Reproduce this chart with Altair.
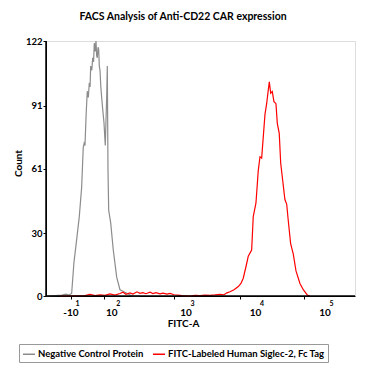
import altair as alt
import pandas as pd
import math

FONT = "Lato"

# x values are in display decades of the FITC-A (biexponential) axis
neg_x = [0.986, 1.115, 1.216, 1.273, 1.317, 1.355, 1.388, 1.427, 1.465, 1.499, 1.522, 1.535, 1.547,
         1.565, 1.580, 1.595, 1.609, 1.620, 1.629, 1.645, 1.658, 1.670, 1.681, 1.693, 1.705, 1.715,
         1.724, 1.735, 1.744, 1.753, 1.763, 1.775, 1.787, 1.800, 1.820, 1.839, 1.850, 1.859, 1.868,
         1.878, 1.888, 1.917, 1.954, 2.003, 2.050, 2.108, 2.170, 2.219, 2.338]
neg_y = [0, 0.2, 0.4, 0.9, 0.5, 1.2, 16, 27, 38, 52, 71, 73, 72,
         88, 98, 95, 102, 100, 110, 108, 114, 112, 121, 117, 122, 115,
         114, 119, 118, 110, 108, 100, 95, 90, 83, 72, 85, 95, 110,
         60, 41, 35, 22, 9, 3, 2, 1, 0, 0]

pos_x = [1.187, 1.547, 1.619, 1.691, 1.763, 1.835, 1.906, 1.978, 2.050, 2.094, 2.137, 2.194, 2.237,
         2.295, 2.338, 2.381, 2.424, 2.482, 2.525, 2.568, 2.626, 2.669, 2.727, 2.770, 2.827, 2.885,
         2.942, 3.000, 3.058, 3.129, 3.201, 3.273, 3.345, 3.417, 3.489, 3.547, 3.590, 3.633, 3.691,
         3.753, 3.791, 3.824, 3.863, 3.896, 3.945, 3.968, 4.007, 4.040, 4.065, 4.089, 4.112, 4.137,
         4.161, 4.184, 4.199, 4.219, 4.242, 4.266, 4.295, 4.314, 4.342, 4.363, 4.391, 4.424, 4.449,
         4.472, 4.506, 4.544, 4.583, 4.640, 4.688, 4.745, 4.784]
pos_y = [0, 0.2, 0.8, 0.2, 0.5, 0.3, 1.0, 0.4, 1.2, 1.8, 0.8, 1.5, 0.9,
         2.0, 1.3, 1.6, 1.1, 1.8, 1.2, 1.6, 1.0, 1.4, 0.9, 1.2, 0.6, 0.4,
         0.2, 0.1, 0.0, 0.3, 0.2, 0.4, 0.3, 0.5, 0.8, 0.6, 1.5, 2, 3,
         4.5, 6, 8.5, 14, 19, 22, 38, 44.5, 60, 66.6, 66, 76, 87,
         92, 98.5, 102.5, 97, 97.8, 93, 92, 82.6, 77.8, 63.5, 55.5, 46, 44,
         36, 25, 20, 12, 6, 3, 0.5, 0]

series_names = ["Negative Control Protein", "FITC-Labeled Human Siglec-2, Fc Tag"]
series_colors = ["#8c8c8c", "#ff0000"]

tick_pos = [1.345, 1.931, 3.0, 4.0, 5.0]
tick_base = ["-10", "10", "10", "10", "10"]
tick_exp = ["1", "2", "3", "4", "5"]

y_ticks = [0, 30, 61, 91, 122]
x_domain = [0.986, 5.432]
y_domain = [0, 122]

W, H = 309, 255

# minor tick positions on the biexponential axis
minor = []
for k in range(1, 10):
    minor.append(round(1.345 + (1.931 - 1.345) * k / 10, 3))
for k in range(2, 10):
    minor.append(round(1.931 + (3 - 1.931) * math.log10(k), 3))
for d in [3, 4, 5]:
    for k in range(2, 10):
        v = d + math.log10(k)
        if v < 5.43:
            minor.append(round(v, 3))
axis_ticks = sorted(set(minor + tick_pos))

rows = []
for x, y in zip(neg_x, neg_y):
    rows.append({"u": x, "count": y, "series": series_names[0]})
for x, y in zip(pos_x, pos_y):
    rows.append({"u": x, "count": y, "series": series_names[1]})
df = pd.DataFrame(rows)

ticks_df = pd.DataFrame({"u": tick_pos, "base": tick_base, "exp": tick_exp})
hline_df = pd.DataFrame({"xa": [x_domain[0]], "xb": [x_domain[1]], "ya": [y_domain[0]]})
vline_df = pd.DataFrame({"xa": [x_domain[0]], "ya": [y_domain[0]], "yb": [y_domain[1]]})

xscale = alt.Scale(domain=x_domain, nice=False, zero=False)
yscale = alt.Scale(domain=y_domain, nice=False)

lines = alt.Chart(df).mark_line(strokeWidth=1.2).encode(
    x=alt.X("u:Q", scale=xscale,
            axis=alt.Axis(values=axis_ticks, labels=False, tickSize=3, tickColor="#000",
                          domainColor="#000", grid=False, title="FITC-A",
                          titleFont=FONT, titleFontSize=10, titleFontWeight="bold",
                          titleX=137, titleY=27, titleBaseline="middle", titleAlign="center",
                          titleColor="#000")),
    y=alt.Y("count:Q", scale=yscale,
            axis=alt.Axis(values=y_ticks, tickSize=3, tickColor="#000", domainColor="#000",
                          grid=False, labelFont=FONT, labelFontSize=9.5, labelFontWeight="bold",
                          labelColor="#000", labelPadding=1, title="Count",
                          titleFont=FONT, titleFontSize=10, titleFontWeight="bold",
                          titleColor="#000", titleX=-28, titleY=122, titleAngle=270,
                          titleAlign="center", titleBaseline="middle")),
    color=alt.Color("series:N",
                    scale=alt.Scale(domain=series_names, range=series_colors),
                    legend=alt.Legend(orient="none", legendX=-27, legendY=303,
                                      direction="horizontal", title=None,
                                      symbolType="stroke", symbolSize=144,
                                      symbolStrokeWidth=1.5, labelFont=FONT,
                                      labelFontSize=9.5, labelFontWeight="bold",
                                      labelColor="#000", labelLimit=400, labelOffset=2,
                                      columnPadding=6, padding=3, strokeColor="#999")),
)

# axis lines, drawn through the scales
hline = alt.Chart(hline_df).mark_rule(color="#000", strokeWidth=1.5).encode(
    x="xa:Q", x2="xb:Q", y="ya:Q")
vline = alt.Chart(vline_df).mark_rule(color="#000", strokeWidth=1.5).encode(
    x="xa:Q", y="ya:Q", y2="yb:Q")

base_text = alt.Chart(ticks_df).mark_text(
    font=FONT, fontSize=10, fontWeight="bold", color="#000", baseline="middle", align="center"
).encode(x=alt.X("u:Q", scale=xscale), y=alt.value(H + 17), text="base:N")

exp_text = alt.Chart(ticks_df).mark_text(
    font=FONT, fontSize=7, fontWeight="bold", color="#000", baseline="middle", align="center", dx=6.5
).encode(x=alt.X("u:Q", scale=xscale), y=alt.value(H + 8), text="exp:N")

chart = alt.layer(lines, hline, vline, base_text, exp_text).properties(
    width=W, height=H,
    autosize=alt.AutoSizeParams(type="none"),
    padding={"left": 38, "top": 33, "right": 10, "bottom": 70},
    title=alt.Title("FACS Analysis of Anti-CD22 CAR expression", font=FONT, fontSize=10.5,
                    fontWeight="bold", color="#000", anchor="middle", dx=-17.5, offset=14),
)

chart.save("out.html", embed_options={"renderer": "svg", "actions": False})
